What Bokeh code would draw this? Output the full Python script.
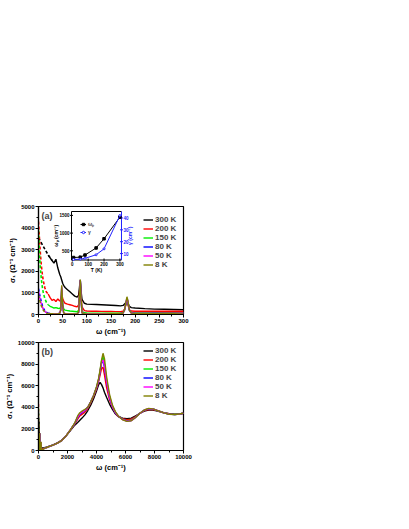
import math
from bokeh.plotting import figure
from bokeh.layouts import column
from bokeh.models import Range1d, Legend, LegendItem, SingleIntervalTicker, Label
from bokeh.embed import file_html
from bokeh.resources import INLINE
from bokeh.core.properties import value

FONT = "Liberation Sans"

temps = ["300 K", "200 K", "150 K", "80 K", "50 K", "8 K"]
colors = ["#000000", "#ff0000", "#00ee00", "#0000ff", "#ff00ff", "#808000"]

# ---- panel (a): low-frequency extrapolation (dashed) ----
w_drude_300 = [0, 5, 10, 15, 20, 25, 28]
s_drude_300 = [3550, 3350, 3150, 2950, 2760, 2600, 2500]
w_drude = [0, 2, 4, 6, 8, 10, 13, 16, 20]
s_drude_200 = [4300, 3500, 2800, 2250, 1850, 1550, 1250, 1050, 950]
s_drude_150 = [3900, 2800, 2100, 1600, 1250, 1000, 750, 580, 450]
s_drude_80 = [1200, 950, 750, 560, 420, 300, 180, 110, 60]
s_drude_50 = [1050, 820, 640, 480, 350, 250, 150, 90, 50]
s_drude_8 = [900, 700, 530, 400, 290, 200, 120, 70, 40]

# ---- panel (a): measured (solid) ----
w_low = [20, 24, 28, 32, 36, 40, 44, 46, 48, 50,
         52, 55, 60, 65, 70, 75, 80, 83, 85, 86.5,
         88, 90, 95, 100, 110, 120, 130, 140, 150, 160,
         170, 175, 178, 181, 183, 185, 188, 192, 200, 220,
         240, 260, 280, 300]
s_low_300 = [2750, 2620, 2500, 2380, 2560, 2150, 1850, 1750, 1600, 1450,
             1350, 1250, 1150, 1050, 950, 850, 800, 900, 1300, 1600,
             1100, 700, 520, 480, 470, 460, 450, 440, 430, 420,
             400, 420, 480, 560, 600, 520, 380, 320, 300, 270,
             250, 240, 230, 220]
s_low_200 = [950, 780, 650, 700, 600, 720, 620, 700, 900, 750,
             620, 520, 480, 450, 420, 380, 350, 450, 1100, 1500,
             900, 350, 180, 160, 150, 150, 145, 140, 140, 135,
             130, 150, 250, 450, 600, 450, 220, 160, 150, 150,
             150, 150, 150, 150]
s_low_150 = [450, 380, 340, 300, 320, 290, 270, 350, 1150, 500,
             260, 200, 180, 160, 150, 140, 130, 200, 900, 1550,
             800, 150, 80, 70, 65, 60, 60, 60, 60, 60,
             60, 80, 200, 500, 700, 550, 200, 90, 70, 70,
             75, 80, 80, 85]
s_low_80 = [60, 45, 40, 35, 35, 40, 60, 200, 1250, 400,
            80, 40, 35, 35, 35, 35, 40, 100, 800, 1580,
            700, 80, 40, 35, 35, 35, 35, 35, 40, 40,
            45, 70, 200, 550, 750, 600, 200, 70, 50, 50,
            55, 60, 65, 70]
s_low_50 = [55, 42, 38, 33, 33, 38, 58, 210, 1300, 420,
            75, 38, 33, 33, 33, 33, 38, 100, 820, 1600,
            720, 75, 38, 33, 33, 33, 33, 33, 38, 38,
            42, 70, 210, 560, 760, 610, 200, 68, 48, 48,
            52, 58, 62, 68]
s_low_8 = [50, 40, 35, 30, 30, 35, 55, 220, 1350, 440,
           70, 35, 30, 30, 30, 30, 35, 100, 850, 1620,
           740, 70, 35, 30, 30, 30, 30, 30, 35, 35,
           40, 70, 220, 580, 820, 640, 200, 65, 45, 45,
           50, 55, 60, 65]

# ---- panel (b): mid-infrared ----
w_high = [400, 600, 800, 1000, 1300, 1600, 1900, 2200, 2500, 2700,
          2850, 3000, 3200, 3400, 3600, 3800, 4000, 4150, 4250, 4350,
          4450, 4550, 4700, 4900, 5100, 5300, 5500, 5800, 6100, 6400,
          6700, 7000, 7300, 7600, 7900, 8200, 8600, 9000, 9400, 9700,
          10000]
s_high_300 = [260, 330, 420, 520, 700, 950, 1350, 1850, 2350, 2600,
              2800, 3000, 3300, 3700, 4200, 4800, 5500, 6100, 6300, 6100,
              5800, 5400, 4900, 4300, 3800, 3400, 3150, 3000, 2950, 3000,
              3200, 3450, 3650, 3750, 3750, 3650, 3500, 3400, 3350, 3380,
              3450]
s_high_200 = [200, 300, 400, 500, 680, 930, 1350, 1900, 2450, 2900,
              3200, 3350, 3550, 3900, 4400, 5000, 5700, 6400, 7000, 7600,
              7700, 7000, 5800, 4700, 4000, 3500, 3150, 2950, 2850, 2900,
              3150, 3450, 3700, 3800, 3800, 3700, 3520, 3400, 3340, 3380,
              3450]
s_high_150 = [200, 300, 400, 500, 680, 920, 1350, 1900, 2500, 3100,
              3400, 3550, 3700, 4000, 4500, 5100, 5800, 6600, 7400, 8300,
              8700, 8000, 6500, 5000, 4100, 3550, 3200, 2900, 2750, 2800,
              3100, 3450, 3750, 3850, 3850, 3700, 3520, 3380, 3330, 3380,
              3450]
s_high_80 = [200, 300, 400, 500, 680, 920, 1350, 1900, 2500, 3050,
             3350, 3500, 3700, 4000, 4500, 5100, 5800, 6550, 7300, 8100,
             8300, 7700, 6300, 4900, 4050, 3500, 3180, 2880, 2730, 2780,
             3080, 3440, 3740, 3860, 3850, 3700, 3510, 3370, 3320, 3370,
             3450]
s_high_50 = [200, 300, 400, 500, 680, 920, 1350, 1900, 2520, 3100,
             3400, 3550, 3720, 4000, 4500, 5100, 5800, 6600, 7350, 8150,
             8400, 7800, 6400, 4950, 4080, 3530, 3190, 2870, 2720, 2770,
             3070, 3440, 3750, 3880, 3860, 3700, 3510, 3370, 3320, 3370,
             3450]
s_high_8 = [200, 300, 400, 500, 680, 920, 1350, 1900, 2550, 3200,
            3500, 3650, 3800, 4000, 4500, 5100, 5900, 6700, 7500, 8400,
            9000, 8500, 6800, 5200, 4200, 3600, 3200, 2850, 2700, 2750,
            3050, 3450, 3750, 3900, 3850, 3700, 3500, 3350, 3320, 3380,
            3450]

# ---- inset ----
T_inset = [8, 50, 80, 150, 200, 300]
wp_inset = [310, 320, 380, 580, 840, 1450]
gamma_inset = [5, 5.3, 6, 9, 14, 42]
inset_T_ticks = [0, 100, 200, 300]
inset_wp_ticks = [500, 1000, 1500]
inset_g_ticks = [10, 20, 30, 40]

drude_w = [w_drude_300, w_drude, w_drude, w_drude, w_drude, w_drude]
drude_s = [s_drude_300, s_drude_200, s_drude_150, s_drude_80, s_drude_50, s_drude_8]
low_s = [s_low_300, s_low_200, s_low_150, s_low_80, s_low_50, s_low_8]
high_s = [s_high_300, s_high_200, s_high_150, s_high_80, s_high_50, s_high_8]

BLUE2 = "#2222ff"


def style(p, xint, yint):
    p.grid.visible = False
    p.outline_line_color = "black"
    p.outline_line_width = 1.2
    p.background_fill_color = "white"
    p.border_fill_color = "white"
    p.xaxis.ticker = SingleIntervalTicker(interval=xint, num_minor_ticks=2)
    p.yaxis.ticker = SingleIntervalTicker(interval=yint, num_minor_ticks=2)
    for ax in (p.xaxis, p.yaxis):
        ax.axis_line_width = 1.2
        ax.major_tick_in = 0
        ax.major_tick_out = 3
        ax.minor_tick_in = 0
        ax.minor_tick_out = 2
        ax.major_label_text_font = FONT
        ax.major_label_text_font_style = "bold"
        ax.major_label_text_font_size = "6px"
        ax.major_label_text_color = "black"
        ax.axis_label_text_font = FONT
        ax.axis_label_text_font_style = "bold"
        ax.axis_label_text_font_size = "7.5px"
        ax.axis_label_text_color = "black"
        ax.major_label_standoff = 1
        ax.axis_label_standoff = 1
    p.xaxis.axis_label = "ω (cm⁻¹)"
    p.yaxis.axis_label = "σ₁ (Ω⁻¹ cm⁻¹)"


def make_legend(p, renderers, loc):
    items = [LegendItem(label=t, renderers=[r]) for t, r in zip(temps, renderers)]
    lg = Legend(items=items, location=loc, margin=0, padding=0,
                spacing=0, glyph_width=10, glyph_height=9, label_height=9,
                label_standoff=2, label_text_font=FONT, label_text_font_style="bold",
                label_text_font_size="8px", border_line_color=None,
                background_fill_alpha=0)
    p.add_layout(lg)


# ================= panel (a) =================
pa = figure(frame_width=145, frame_height=108, x_range=Range1d(0, 300), y_range=Range1d(0, 5000),
            output_backend="svg", toolbar_location=None,
            min_border_left=38, min_border_top=206, min_border_bottom=26, min_border_right=14)
style(pa, 50, 1000)

rs = []
for i in range(6):
    pa.line(drude_w[i], drude_s[i], line_color=colors[i], line_width=1.6, line_dash="3 2")
    r = pa.line(w_low, low_s[i], line_color=colors[i], line_width=1.4)
    rs.append(r)
make_legend(pa, rs, (105, 45))
pa.add_layout(Label(x=0, y=5000, x_offset=3, y_offset=-4, text="(a)", text_font=FONT,
                    text_font_style="bold", text_font_size="9px", text_baseline="top"))

# inset
ins_x = Range1d(-5, 310)
ins_y = Range1d(240, 1610)
ins_y2 = Range1d(4.6, 45.4)
tgt_x = Range1d(68.3, 171.7)
tgt_y = Range1d(2523, 4768)
sub1 = pa.subplot(x_source=ins_x, y_source=ins_y, x_target=tgt_x, y_target=tgt_y)
sub2 = pa.subplot(x_source=ins_x, y_source=ins_y2, x_target=tgt_x, y_target=tgt_y)

sub1.segment(x0=[ins_x.start, ins_x.start, ins_x.start], y0=[ins_y.start, ins_y.end, ins_y.start],
             x1=[ins_x.start, ins_x.end, ins_x.end], y1=[ins_y.end, ins_y.end, ins_y.start],
             line_color="black", line_width=1)
sub1.segment(x0=[ins_x.end], y0=[ins_y.start], x1=[ins_x.end], y1=[ins_y.end],
             line_color=BLUE2, line_width=1)
sub1.scatter(x=inset_T_ticks, y=[ins_y.start] * len(inset_T_ticks), marker="dash",
             angle=math.pi / 2, size=3, line_color="black")
sub1.scatter(x=[ins_x.start] * len(inset_wp_ticks), y=inset_wp_ticks, marker="dash",
             size=3, line_color="black")
sub2.scatter(x=[ins_x.end] * len(inset_g_ticks), y=inset_g_ticks, marker="dash",
             size=3, line_color=BLUE2)
sub1.text(x=inset_T_ticks, y=[ins_y.start] * len(inset_T_ticks), text=[str(t) for t in inset_T_ticks],
          y_offset=2, text_align="center", text_baseline="top", text_font=value(FONT),
          text_font_style="bold", text_font_size="4.5px", text_color="black")
sub1.text(x=[ins_x.start] * len(inset_wp_ticks), y=inset_wp_ticks, text=[str(t) for t in inset_wp_ticks],
          x_offset=-2, text_align="right", text_baseline="middle", text_font=value(FONT),
          text_font_style="bold", text_font_size="4.5px", text_color="black")
sub2.text(x=[ins_x.end] * len(inset_g_ticks), y=inset_g_ticks, text=[str(t) for t in inset_g_ticks],
          x_offset=2, text_align="left", text_baseline="middle", text_font=value(FONT),
          text_font_style="bold", text_font_size="4.5px", text_color=BLUE2)
sub1.text(x=[(ins_x.start + ins_x.end) / 2], y=[ins_y.start], text=["T (K)"], y_offset=7,
          text_align="center", text_baseline="top", text_font=value(FONT),
          text_font_style="bold", text_font_size="5px", text_color="black")
sub1.text(x=[ins_x.start], y=[(ins_y.start + ins_y.end) / 2], text=["ωₚ (cm⁻¹)"], x_offset=-16,
          angle=math.pi / 2, text_align="center", text_baseline="middle", text_font=value(FONT),
          text_font_style="bold", text_font_size="5px", text_color="black")
sub2.text(x=[ins_x.end], y=[(ins_y2.start + ins_y2.end) / 2], text=["γ (cm⁻¹)"], x_offset=9,
          angle=math.pi / 2, text_align="center", text_baseline="middle", text_font=value(FONT),
          text_font_style="bold", text_font_size="5px", text_color=BLUE2)

l1 = sub1.line(T_inset, wp_inset, line_color="black", line_width=1)
m1 = sub1.scatter(T_inset, wp_inset, marker="square", size=2.5, fill_color="black", line_color="black")
l2 = sub2.line(T_inset, gamma_inset, line_color=BLUE2, line_width=1)
m2 = sub2.scatter(T_inset, gamma_inset, marker="circle", size=2, fill_color="white", line_color=BLUE2)
ins_leg = Legend(items=[LegendItem(label="ωₚ", renderers=[l1, m1]), LegendItem(label="γ", renderers=[l2, m2])],
                 location=(42, 78), margin=0, padding=0, spacing=0, glyph_width=6, glyph_height=8,
                 label_height=8, label_standoff=2, label_text_font=FONT, label_text_font_style="bold",
                 label_text_font_size="5px", border_line_color=None, background_fill_alpha=0)
pa.add_layout(ins_leg)

# ================= panel (b) =================
pb = figure(frame_width=145, frame_height=108, x_range=Range1d(0, 10000), y_range=Range1d(0, 10000),
            output_backend="svg", toolbar_location=None,
            min_border_left=38, min_border_top=2, min_border_bottom=26, min_border_right=14)
style(pb, 2000, 2000)
rs_b = []
for i in range(6):
    pb.line(drude_w[i], drude_s[i], line_color=colors[i], line_width=1.4, line_dash="3 2")
    r = pb.line(w_low + w_high, low_s[i] + high_s[i], line_color=colors[i], line_width=1.4)
    rs_b.append(r)
make_legend(pb, rs_b, (105, 50))
pb.add_layout(Label(x=0, y=10000, x_offset=3, y_offset=-4, text="(b)", text_font=FONT,
                    text_font_style="bold", text_font_size="9px", text_baseline="top"))

lay = column(pa, pb)
open("out.html", "w").write(file_html(lay, INLINE))
